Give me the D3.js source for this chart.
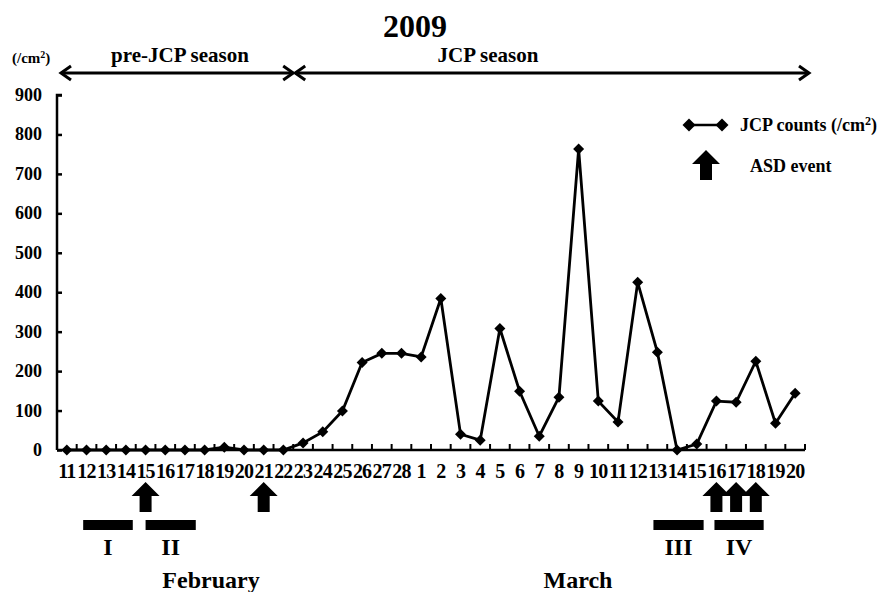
<!DOCTYPE html>
<html>
<head>
<meta charset="utf-8">
<script src="https://cdn.jsdelivr.net/npm/d3@7"></script>
<style>
  body { margin: 0; background: #fff; }
  svg text { font-family: "Liberation Serif", "Times New Roman", serif; font-weight: bold; fill: #000; }
</style>
</head>
<body>
<div id="grafica"></div>
<script>
// days shown on the x axis
var febDays = ["11","12","13","14","15","16","17","18","19","20","21","22","23","24","25","26","27","28"];
var marDays = ["1","2","3","4","5","6","7","8","9","10","11","12","13","14","15","16","17","18","19","20"];

// JCP counts (/cm2), Feb 11 .. Mar 20
var jcpCounts = [0,0,0,0,0,0,0,0,7,0,0,0,18,46,99,222,245,245,
                 236,384,40,25,308,149,35,134,763,124,71,425,248,0,15,124,121,225,68,144];

// ASD event days
var asdDays = ["F15","F21","M16","M17","M18"];

// periods I..IV as positions in day units (0 = left edge of Feb 11)
var periodNames = ["I","II","III","IV"];
var periodStart = [1.33, 4.5, 30.3, 33.4];
var periodEnd   = [3.85, 7.05, 32.85, 35.9];

var yTicks = [0,100,200,300,400,500,600,700,800,900];

var keys = febDays.map(function(d){ return "F" + d; }).concat(marDays.map(function(d){ return "M" + d; }));
var data = keys.map(function(k, i){ return { key: k, value: jcpCounts[i] }; });

var W = 881, H = 592;
var svg = d3.select("#grafica").append("svg")
    .attr("width", W).attr("height", H)
    .attr("font-family", "'Liberation Serif', serif");

var x = d3.scaleBand().domain(keys).range([57, 805]);
var y = d3.scaleLinear().domain([0, 900]).range([450, 95]);
var step = x.step();
function cx(k) { return x(k) + x.bandwidth() / 2; }
function px(p) { return x.range()[0] + p * step; }

// y axis, ticks inside
var yAxis = svg.append("g")
    .attr("transform", "translate(57,0)")
    .call(d3.axisRight(y).tickValues(yTicks).tickSize(5).tickFormat(""));
yAxis.select(".domain").attr("d", "M5," + y(900) + "H0V" + y(0));
yAxis.selectAll("path, line").attr("stroke", "#000").attr("stroke-width", 2.5);

yTicks.forEach(function(t){
  svg.append("text")
    .attr("x", 42).attr("y", y(t) + 6)
    .attr("text-anchor", "end")
    .style("font-size", "18px")
    .text(t);
});

// x axis, ticks between days pointing up
var edges = keys.slice(1).map(function(k){ return x(k); }).concat([x.range()[1]]);
svg.append("line")
    .attr("x1", 57).attr("x2", 805).attr("y1", 450).attr("y2", 450)
    .attr("stroke", "#000").attr("stroke-width", 2.5);
svg.selectAll(".xtick").data(edges).enter().append("line")
    .attr("class", "xtick")
    .attr("x1", function(d){ return d; }).attr("x2", function(d){ return d; })
    .attr("y1", 450).attr("y2", 444)
    .attr("stroke", "#000").attr("stroke-width", 2);

svg.selectAll(".xlab").data(keys).enter().append("text")
    .attr("class", "xlab")
    .attr("x", function(d){ return cx(d); })
    .attr("y", 478)
    .attr("text-anchor", "middle")
    .style("font-size", "20px")
    .style("letter-spacing", "-0.8px")
    .text(function(d){ return d.slice(1); });

// the line and markers
var lineFn = d3.line()
    .x(function(d){ return cx(d.key); })
    .y(function(d){ return y(d.value); });

svg.append("path")
    .datum(data)
    .attr("fill", "none")
    .attr("stroke", "#000")
    .attr("stroke-width", 2.8)
    .attr("d", lineFn);

function diamond(r) { return "M0," + (-r) + "L" + r + ",0L0," + r + "L" + (-r) + ",0Z"; }

svg.selectAll(".dot").data(data).enter().append("path")
    .attr("class", "dot")
    .attr("transform", function(d){ return "translate(" + cx(d.key) + "," + y(d.value) + ")"; })
    .attr("d", diamond(5.5))
    .attr("fill", "#000");

// block arrow, tip at (ax, ay)
function blockArrow(ax, ay, hw, hh, sw, len) {
  return "M" + ax + "," + ay +
    "L" + (ax + hw) + "," + (ay + hh) +
    "L" + (ax + sw) + "," + (ay + hh) +
    "L" + (ax + sw) + "," + (ay + len) +
    "L" + (ax - sw) + "," + (ay + len) +
    "L" + (ax - sw) + "," + (ay + hh) +
    "L" + (ax - hw) + "," + (ay + hh) + "Z";
}

svg.selectAll(".asd").data(asdDays).enter().append("path")
    .attr("class", "asd")
    .attr("d", function(d){ return blockArrow(cx(d), 482, 14, 14, 6, 30); })
    .attr("fill", "#000");

// periods
periodNames.forEach(function(n, i){
  var a = px(periodStart[i]), b = px(periodEnd[i]);
  svg.append("rect")
    .attr("x", a).attr("y", 520).attr("width", b - a).attr("height", 10)
    .attr("fill", "#000");
  svg.append("text")
    .attr("x", (a + b) / 2).attr("y", 555)
    .attr("text-anchor", "middle")
    .style("font-size", "24px")
    .text(n);
});

svg.append("text").attr("x", 211).attr("y", 588).attr("text-anchor", "middle")
    .style("font-size", "24px").text("February");
svg.append("text").attr("x", 578).attr("y", 588).attr("text-anchor", "middle")
    .style("font-size", "24px").text("March");

// title and season arrows
svg.append("text").attr("x", 415).attr("y", 37).attr("text-anchor", "middle")
    .style("font-size", "32px").text("2009");

var unit = svg.append("text").attr("x", 12).attr("y", 63).style("font-size", "15px");
unit.append("tspan").text("(/cm");
unit.append("tspan").attr("dy", -5).style("font-size", "10px").text("2");
unit.append("tspan").attr("dy", 5).text(")");

var sy = 73, split = x("F23") + 1;
function seasonArrow(a, b) {
  var g = svg.append("g").attr("fill", "none").attr("stroke", "#000").attr("stroke-width", 3);
  g.append("line").attr("x1", a).attr("x2", b).attr("y1", sy).attr("y2", sy);
  g.append("path").attr("d", "M" + (a + 10) + "," + (sy - 7) + "L" + a + "," + sy + "L" + (a + 10) + "," + (sy + 7));
  g.append("path").attr("d", "M" + (b - 10) + "," + (sy - 7) + "L" + b + "," + sy + "L" + (b - 10) + "," + (sy + 7));
}
seasonArrow(61, split - 1);
seasonArrow(split + 1, 809);

svg.append("text").attr("x", 180).attr("y", 62).attr("text-anchor", "middle")
    .style("font-size", "21px").text("pre-JCP season");
svg.append("text").attr("x", 488).attr("y", 62).attr("text-anchor", "middle")
    .style("font-size", "21px").text("JCP season");

// legend
svg.append("line").attr("x1", 689).attr("x2", 722).attr("y1", 125).attr("y2", 125)
    .attr("stroke", "#000").attr("stroke-width", 2.5);
[689, 722].forEach(function(lx){
  svg.append("path").attr("transform", "translate(" + lx + ",125)").attr("d", diamond(6.5)).attr("fill", "#000");
});
var lt = svg.append("text").attr("x", 740).attr("y", 131).style("font-size", "18px");
lt.append("tspan").text("JCP counts (/cm");
lt.append("tspan").attr("dy", -6).style("font-size", "12px").text("2");
lt.append("tspan").attr("dy", 6).text(")");

svg.append("path").attr("d", blockArrow(706, 150, 14, 14, 6, 30)).attr("fill", "#000");
svg.append("text").attr("x", 750).attr("y", 172).style("font-size", "18px").text("ASD event");
</script>
</body>
</html>
